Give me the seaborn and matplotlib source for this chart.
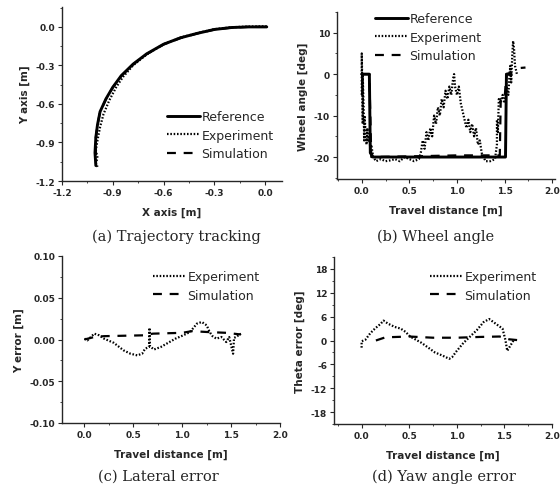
import matplotlib
matplotlib.use("Agg")
import matplotlib.pyplot as plt
from matplotlib.ticker import AutoMinorLocator, FixedLocator
import seaborn as sns

sns.set_style("ticks")
plt.rcParams['font.family'] = ['DejaVu Sans']

# ---------------- data ----------------
# (a) trajectory
traj_ref_x = [0.01, -0.1, -0.2, -0.3, -0.4, -0.5, -0.6, -0.7, -0.78, -0.85, -0.9, -0.94, -0.975, -0.99, -1.0, -1.005, -1.0]
traj_ref_y = [0.0, 0.0, -0.005, -0.02, -0.05, -0.085, -0.135, -0.21, -0.29, -0.38, -0.47, -0.56, -0.66, -0.76, -0.86, -0.98, -1.08]
traj_exp_x = [0.01, -0.1, -0.2, -0.3, -0.4, -0.5, -0.6, -0.7, -0.78, -0.84, -0.88, -0.92, -0.955, -0.975, -0.99, -1.0, -0.99, -1.0, -0.99]
traj_exp_y = [0.005, 0.003, -0.003, -0.018, -0.048, -0.083, -0.135, -0.215, -0.3, -0.39, -0.47, -0.57, -0.68, -0.78, -0.88, -0.96, -1.02, -1.06, -1.09]
traj_sim_x = [0.0, -0.1, -0.2, -0.3, -0.4, -0.5, -0.6, -0.7, -0.78, -0.85, -0.9, -0.94, -0.975, -0.99, -1.0, -1.0]
traj_sim_y = [0.0, 0.0, -0.006, -0.021, -0.051, -0.087, -0.137, -0.212, -0.292, -0.382, -0.472, -0.562, -0.662, -0.762, -0.862, -1.0]

# (b) wheel angle
wa_ref_x = [0.0, 0.08, 0.09, 0.12, 1.51, 1.52, 1.57]
wa_ref_y = [0.0, 0.0, -19.0, -20.0, -20.0, 0.0, 0.0]
wa_exp_x = [0.0, 0.0, 0.005, 0.01, 0.01, 0.02, 0.025, 0.03, 0.04, 0.05, 0.06, 0.07, 0.08, 0.09, 0.1, 0.12,
            0.15, 0.2, 0.25, 0.3, 0.35, 0.4, 0.45, 0.5, 0.55, 0.6, 0.62, 0.64, 0.66, 0.68, 0.7, 0.72, 0.74,
            0.76, 0.78, 0.8, 0.82, 0.84, 0.86, 0.88, 0.9, 0.92, 0.94, 0.96, 0.97, 0.98, 1.0, 1.02, 1.04,
            1.06, 1.08, 1.1, 1.12, 1.14, 1.16, 1.18, 1.2, 1.22, 1.24, 1.26, 1.28, 1.3, 1.35, 1.4, 1.42,
            1.42, 1.43, 1.44, 1.46, 1.48, 1.5, 1.52, 1.54, 1.55, 1.56, 1.57, 1.58, 1.59, 1.6, 1.61, 1.63]
wa_exp_y = [-5, 5, -2, -12, 0, -8, -16, -10, -14, -17, -13, -16, -15, -18, -17, -20,
            -21, -20.5, -21, -20.8, -20.5, -21, -20, -20.5, -21, -20.5, -19, -16, -18, -14, -16, -13, -15,
            -10, -12, -8, -10, -6, -8, -4, -6, -3, -5, -1, 0, -3, -5, -3, -7,
            -9, -11, -13, -11, -14, -12, -15, -13, -17, -16, -19, -20, -21, -21, -20.5, -17,
            -11, -14, -6, -7, -5, -7, -3, -5, -1, 2, -2, 4, 8, 6, 2, 0]
wa_sim_x = [0.0, 0.08, 0.1, 0.6, 1.0, 1.45, 1.46, 1.5, 1.52, 1.56]
wa_sim_y = [0.0, 0.0, -20.0, -19.8, -19.6, -19.6, -6.0, -6.0, 0.0, 0.3]
wa_tail_x = [1.67, 1.72]
wa_tail_y = [1.5, 1.6]

# (c) lateral error
le_exp_x = [0.0, 0.03, 0.1, 0.15, 0.2, 0.3, 0.4, 0.47, 0.54, 0.59, 0.62, 0.66, 0.665, 0.67, 0.71, 0.78, 0.84,
            0.93, 1.01, 1.08, 1.15, 1.2, 1.25, 1.28, 1.31, 1.35, 1.4, 1.45, 1.48, 1.52, 1.53, 1.55, 1.6]
le_exp_y = [0.001, -0.001, 0.007, 0.005, 0.001, -0.004, -0.013, -0.017, -0.019, -0.017, -0.011, -0.009, 0.014, -0.008,
            -0.012, -0.009, -0.005, 0.001, 0.005, 0.009, 0.019, 0.021, 0.017, 0.009, 0.004, 0.001, 0.003, -0.003,
            0.003, -0.017, 0.002, 0.003, 0.007]
le_sim_x = [0.0, 0.1, 0.2, 0.6, 0.7, 1.0, 1.1, 1.25, 1.45, 1.6]
le_sim_y = [0.0, 0.003, 0.004, 0.005, 0.007, 0.008, 0.01, 0.009, 0.008, 0.006]

# (d) yaw angle error
ye_exp_x = [0.0, 0.0, 0.04, 0.09, 0.14, 0.2, 0.23, 0.28, 0.35, 0.41, 0.46, 0.51, 0.57, 0.63, 0.7, 0.77, 0.85,
            0.92, 0.95, 1.0, 1.07, 1.14, 1.21, 1.28, 1.34, 1.41, 1.48, 1.51, 1.53, 1.56, 1.6]
ye_exp_y = [-1.8, -0.2, 0.2, 1.8, 3.0, 4.2, 5.0, 4.2, 3.4, 3.0, 2.2, 1.0, 0.2, -0.6, -1.8, -3.0, -3.8,
            -4.6, -4.2, -2.6, -0.6, 1.0, 2.6, 4.6, 5.4, 4.2, 3.0, 0.2, -2.6, -1.4, 0.2]
ye_sim_x = [0.15, 0.25, 0.5, 0.75, 1.0, 1.25, 1.45, 1.55, 1.68]
ye_sim_y = [0.0, 0.8, 1.0, 0.7, 0.7, 0.9, 1.0, 0.3, 0.0]

# ---------------- layout ----------------
W, H = 560, 489
fig = plt.figure(figsize=(W / 100, H / 100), dpi=100)

def box(x0, y0, x1, y1):
    return [x0 / W, 1 - y1 / H, (x1 - x0) / W, (y1 - y0) / H]

ax_a = fig.add_axes(box(62, 8, 282, 182))
ax_b = fig.add_axes(box(337, 13, 555, 180))
ax_c = fig.add_axes(box(62, 257, 280, 424))
ax_d = fig.add_axes(box(334, 258, 552, 425))

REF = dict(color="black", linewidth=2.1, linestyle="-")
EXP = dict(color="black", linewidth=1.6, linestyle=(0, (0.7, 0.8)))
SIM = dict(color="black", linewidth=1.6, linestyle=(0, (4, 3.5)))

tick_font = dict(fontsize=6.5, fontweight="bold")
lab_font = dict(fontsize=7.5, fontweight="bold")

def style(ax, xt, yt, xl, yl, xlabel, ylabel, xfmt, yfmt):
    sns.despine(ax=ax)
    ax.set_xlim(*xl)
    ax.set_ylim(*yl)
    ax.xaxis.set_major_locator(FixedLocator(xt))
    ax.yaxis.set_major_locator(FixedLocator(yt))
    ax.set_xticklabels([xfmt.format(v) for v in xt], **tick_font)
    ax.set_yticklabels([yfmt.format(v) for v in yt], **tick_font)
    ax.xaxis.set_minor_locator(AutoMinorLocator(2))
    ax.yaxis.set_minor_locator(AutoMinorLocator(2))
    ax.tick_params(which="major", direction="out", length=3, width=0.8, pad=2)
    ax.tick_params(which="minor", direction="out", length=1.5, width=0.6)
    for s in ("left", "bottom"):
        ax.spines[s].set_linewidth(1.0)
    ax.set_xlabel(xlabel, **lab_font, labelpad=7)
    ax.set_ylabel(ylabel, **lab_font, labelpad=4)

def leg(ax, x, y, handlelength=2.6):
    ax.legend(loc="upper left", bbox_to_anchor=(x / W, 1 - y / H), bbox_transform=fig.transFigure,
              frameon=False, fontsize=9, handlelength=handlelength, handletextpad=0.15,
              borderpad=0, borderaxespad=0, labelspacing=0.45)

# (a)
sns.lineplot(x=traj_ref_x, y=traj_ref_y, sort=False, estimator=None, ax=ax_a, label="Reference", **REF)
sns.lineplot(x=traj_exp_x, y=traj_exp_y, sort=False, estimator=None, ax=ax_a, label="Experiment", **EXP)
sns.lineplot(x=traj_sim_x, y=traj_sim_y, sort=False, estimator=None, ax=ax_a, label="Simulation", **SIM)
style(ax_a, [-1.2, -0.9, -0.6, -0.3, 0.0], [-1.2, -0.9, -0.6, -0.3, 0.0], (-1.2, 0.1), (-1.2, 0.155),
      "X axis [m]", "Y axis [m]", "{:.1f}", "{:.1f}")
leg(ax_a, 167, 111)

# (b)
sns.lineplot(x=wa_ref_x, y=wa_ref_y, sort=False, estimator=None, ax=ax_b, label="Reference", **REF)
sns.lineplot(x=wa_exp_x, y=wa_exp_y, sort=False, estimator=None, ax=ax_b, label="Experiment", **EXP)
sns.lineplot(x=wa_sim_x, y=wa_sim_y, sort=False, estimator=None, ax=ax_b, label="Simulation", **SIM)
sns.lineplot(x=wa_tail_x, y=wa_tail_y, sort=False, estimator=None, ax=ax_b, **SIM)
style(ax_b, [0.0, 0.5, 1.0, 1.5, 2.0], [-20, -10, 0, 10], (-0.26, 2.03), (-25.3, 15),
      "Travel distance [m]", "Wheel angle [deg]", "{:.1f}", "{:d}")
leg(ax_b, 375, 13)

# (c)
sns.lineplot(x=le_exp_x, y=le_exp_y, sort=False, estimator=None, ax=ax_c, label="Experiment", **EXP)
sns.lineplot(x=le_sim_x, y=le_sim_y, sort=False, estimator=None, ax=ax_c, label="Simulation", **SIM)
style(ax_c, [0.0, 0.5, 1.0, 1.5, 2.0], [-0.10, -0.05, 0.0, 0.05, 0.10], (-0.23, 2.0), (-0.10, 0.10),
      "Travel distance [m]", "Y error [m]", "{:.1f}", "{:.2f}")
leg(ax_c, 153, 271)

# (d)
sns.lineplot(x=ye_exp_x, y=ye_exp_y, sort=False, estimator=None, ax=ax_d, label="Experiment", **EXP)
sns.lineplot(x=ye_sim_x, y=ye_sim_y, sort=False, estimator=None, ax=ax_d, label="Simulation", **SIM)
style(ax_d, [0.0, 0.5, 1.0, 1.5, 2.0], [-18, -12, -6, 0, 6, 12, 18], (-0.29, 2.0), (-21, 21),
      "Travel distance [m]", "Theta error [deg]", "{:.1f}", "{:d}")
leg(ax_d, 430, 271)

# captions
cap = dict(fontsize=10.5, family="DejaVu Serif", ha="center", va="center")
fig.text(176 / W, 1 - 237 / H, "(a) Trajectory tracking", **cap)
fig.text(436 / W, 1 - 237 / H, "(b) Wheel angle", **cap)
fig.text(158 / W, 1 - 477 / H, "(c) Lateral error", **cap)
fig.text(444 / W, 1 - 477 / H, "(d) Yaw angle error", **cap)

fig.savefig("out.png", dpi=100)
